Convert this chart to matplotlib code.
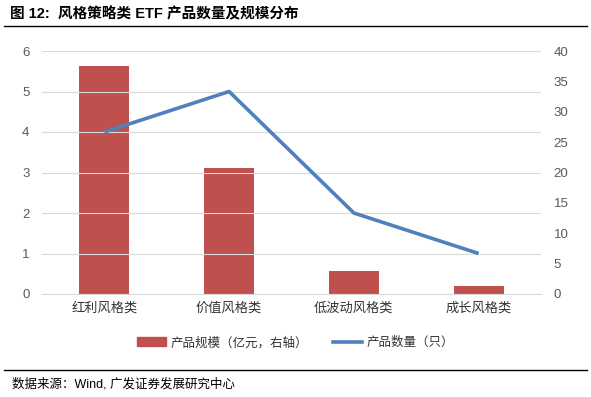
import matplotlib

matplotlib.use("Agg")
import matplotlib.pyplot as plt
from matplotlib.lines import Line2D
import numpy as np

plt.rcParams["font.family"] = ["Liberation Sans", "Noto Sans CJK SC"]

categories = ["红利风格类", "价值风格类", "低波动风格类", "成长风格类"]
scale_yi = [37.5, 20.7, 3.8, 1.3]      # 产品规模（亿元，右轴）
count = [4, 5, 2, 1]                   # 产品数量（只）

BAR_C = "#C0504D"
LINE_C = "#4F81BD"
TICK_C = "#595959"

fig = plt.figure(figsize=(5.91, 3.97), dpi=100)
ax = fig.add_axes([42 / 591, 103 / 397, 499 / 591, 243 / 397])
ax2 = ax.twinx()

x = np.arange(len(categories))
ax2.bar(x, scale_yi, width=0.4, color=BAR_C, zorder=2)
ax.plot(x, count, color=LINE_C, lw=2.6, solid_capstyle="butt", zorder=5)
ax.set_zorder(ax2.get_zorder() + 1)
ax.patch.set_visible(False)

ax.set_xlim(-0.5, 3.5)
ax.set_ylim(0, 6)
ax2.set_ylim(0, 40)
ax.set_yticks(range(0, 7))
ax2.set_yticks(range(0, 41, 5))
ax.grid(axis="y", color="#d9d9d9", lw=0.8)
ax.set_axisbelow(True)

for a in (ax, ax2):
    for s in a.spines.values():
        s.set_visible(False)
    a.tick_params(length=0, colors=TICK_C, labelsize=9.5)
ax.spines["bottom"].set_visible(True)
ax.spines["bottom"].set_color("#d9d9d9")
ax.tick_params(axis="y", pad=9)
ax2.tick_params(axis="y", pad=9)

ax.set_xticks(x)
ax.set_xticklabels(categories, fontsize=9.5, color="#333333")
ax.tick_params(axis="x", pad=6)

# legend
handles = [
    plt.Rectangle((0, 0), 1, 1, color=BAR_C),
    Line2D([0], [0], color=LINE_C, lw=2.6),
]
fig.legend(handles, ["产品规模（亿元，右轴）", "产品数量（只）"],
           loc="center", bbox_to_anchor=(0.5, 1 - 343 / 397), ncol=2,
           frameon=False, fontsize=9, handlelength=2.3, columnspacing=2.0,
           handletextpad=0.4, labelcolor="#333333")

# title and source
fig.text(10 / 591, 1 - 14 / 397, "图 12:  风格策略类 ETF 产品数量及规模分布",
         fontsize=10.5, fontweight="bold", va="center", ha="left")
fig.add_artist(Line2D([4 / 591, 587 / 591], [1 - 26 / 397] * 2, color="black", lw=1))
fig.add_artist(Line2D([4 / 591, 587 / 591], [1 - 370 / 397] * 2, color="black", lw=1))
fig.text(12 / 591, 1 - 384 / 397, "数据来源：Wind, 广发证券发展研究中心",
         fontsize=9, va="center", ha="left")

fig.savefig("out.png", dpi=100)
